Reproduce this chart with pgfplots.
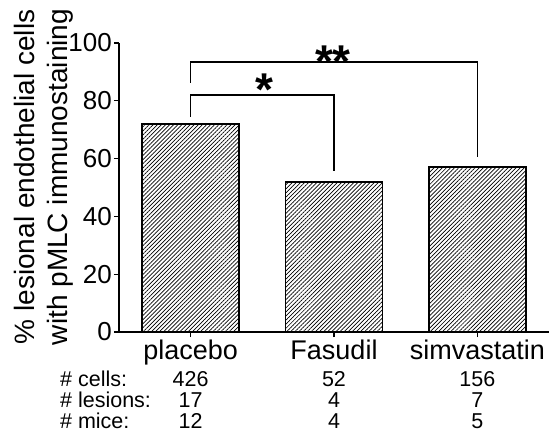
\documentclass[border=0pt]{standalone}
\usepackage{pgfplots}
\pgfplotsset{compat=1.18}
\usepackage{fontspec}
\setmainfont{Liberation Sans}
\usetikzlibrary{patterns.meta}
\begin{document}
\begin{tikzpicture}
\begin{axis}[
  scale only axis,
  width=430pt, height=289pt,
  xmin=-0.5, xmax=2.5,
  ymin=0, ymax=100,
  axis lines=left,
  axis line style={line width=1.6pt, -},
  clip=false,
  xtick={0,1,2},
  xticklabels={placebo,Fasudil,simvastatin},
  ytick={0,20,40,60,80,100},
  tick align=outside,
  major tick length=5pt,
  tick style={line width=1.4pt, black},
  /pgf/number format/assume math mode=true,
  yticklabel style={font=\fontsize{26}{30}\selectfont, inner sep=1pt, xshift=-1pt},
  xticklabel style={font=\fontsize{27}{30}\selectfont, anchor=base, yshift=-22pt, inner sep=0pt},
]
\addplot[ybar, bar width=97pt, line width=1.8pt, draw=black,
  pattern={Lines[angle=45,distance=2.9pt,line width=0.7pt]}]
  coordinates {(0,72) (1,52) (2,57)};
% significance brackets
\addplot[black, line width=1.2pt] coordinates {(0,74.4) (0,82) (1,82) (1,55.7)};
\addplot[black, line width=1.2pt] coordinates {(0,86.2) (0,93.4) (2,93.4) (2,60.6)};
\node[anchor=base, font=\fontsize{46}{50}\bfseries\selectfont, inner sep=0pt] at (axis cs:0.518,78.5) {*};
\node[anchor=base, font=\fontsize{46}{50}\bfseries\selectfont, inner sep=0pt] at (axis cs:0.993,88.2) {**};
% counts table
\node[anchor=base west, font=\fontsize{21.5}{24}\selectfont, inner sep=0pt] at (axis cs:-0.912,-19.0) {\# cells:};
\node[anchor=base west, font=\fontsize{21.5}{24}\selectfont, inner sep=0pt] at (axis cs:-0.912,-26.2) {\# lesions:};
\node[anchor=base west, font=\fontsize{21.5}{24}\selectfont, inner sep=0pt] at (axis cs:-0.912,-33.4) {\# mice:};
\node[anchor=base, font=\fontsize{21.5}{24}\selectfont, inner sep=0pt] at (axis cs:0,-19.0) {426};
\node[anchor=base, font=\fontsize{21.5}{24}\selectfont, inner sep=0pt] at (axis cs:1,-19.0) {52};
\node[anchor=base, font=\fontsize{21.5}{24}\selectfont, inner sep=0pt] at (axis cs:2,-19.0) {156};
\node[anchor=base, font=\fontsize{21.5}{24}\selectfont, inner sep=0pt] at (axis cs:0,-26.2) {17};
\node[anchor=base, font=\fontsize{21.5}{24}\selectfont, inner sep=0pt] at (axis cs:1,-26.2) {4};
\node[anchor=base, font=\fontsize{21.5}{24}\selectfont, inner sep=0pt] at (axis cs:2,-26.2) {7};
\node[anchor=base, font=\fontsize{21.5}{24}\selectfont, inner sep=0pt] at (axis cs:0,-33.4) {12};
\node[anchor=base, font=\fontsize{21.5}{24}\selectfont, inner sep=0pt] at (axis cs:1,-33.4) {4};
\node[anchor=base, font=\fontsize{21.5}{24}\selectfont, inner sep=0pt] at (axis cs:2,-33.4) {5};
\end{axis}
% y label, two rotated lines
\node[rotate=90, anchor=base, font=\fontsize{28}{32}\selectfont, inner sep=0pt] at (-84pt,155pt) {\% lesional endothelial cells};
\node[rotate=90, anchor=base, font=\fontsize{28}{32}\selectfont, inner sep=0pt] at (-51pt,155pt) {with pMLC immunostaining};
\pgfresetboundingbox
\useasboundingbox (-119pt,-110pt) rectangle (430pt,332pt);
\end{tikzpicture}
\end{document}
